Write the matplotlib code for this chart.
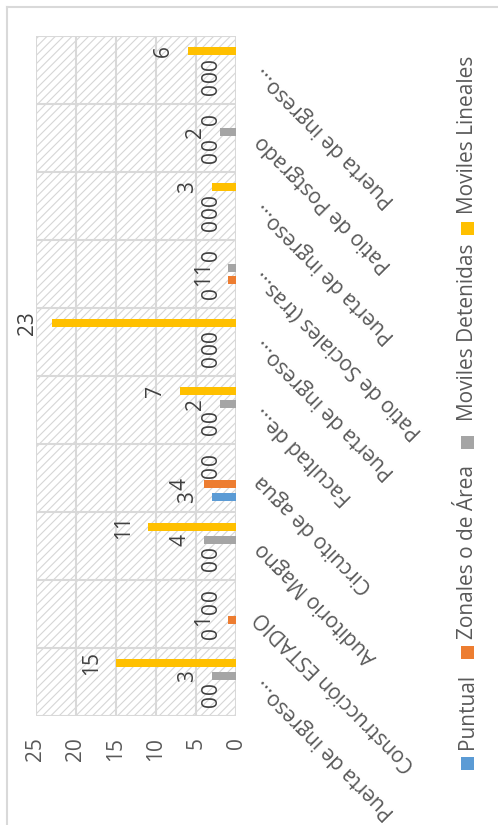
import matplotlib
matplotlib.use("Agg")
import matplotlib.pyplot as plt
import numpy as np
from matplotlib.patches import Rectangle
from matplotlib.lines import Line2D

plt.rcParams['font.family'] = ['Open Sans', 'DejaVu Sans']
plt.rcParams['hatch.linewidth'] = 0.8
plt.rcParams['hatch.color'] = '#d6d6d6'

categories = ["Puerta de ingreso...", "Construcción ESTADIO", "Auditorio Magno",
              "Circuito de agua", "Facultad de...", "Puerta de ingreso...",
              "Patio de Sociales (tras...", "Puerta de ingreso...",
              "Patio de Postgrado", "Puerta de ingreso..."]
series_names = ["Puntual", "Zonales o de Área", "Moviles Detenidas", "Moviles Lineales"]
puntual = [0, 0, 0, 3, 0, 0, 0, 0, 0, 0]
zonales = [0, 1, 0, 4, 0, 0, 1, 0, 0, 0]
detenidas = [3, 0, 4, 0, 2, 0, 1, 0, 2, 0]
lineales = [15, 0, 11, 0, 7, 23, 0, 3, 0, 6]
value_ticks = [0, 5, 10, 15, 20, 25]

colors = ['#5B9BD5', '#ED7D31', '#A5A5A5', '#FFC000']
series = [puntual, zonales, detenidas, lineales]

FS = 15
W, H = 498, 825
fig = plt.figure(figsize=(W / 100, H / 100), dpi=100)
ax = fig.add_axes([36 / W, 1 - 716 / H, 200 / W, 680 / H])

n = len(categories)
y = np.arange(n)
offsets = np.array([-1.5, -0.5, 0.5, 1.5]) * 0.185
bar_h = 0.12

ax.set_xlim(25, 0)
ax.set_ylim(-0.5, n - 0.5)

# hatched background
ax.add_patch(Rectangle((0, 0), 1, 1, transform=ax.transAxes, facecolor='white',
                       edgecolor='#d6d6d6', hatch='////', linewidth=0, zorder=0))

for v in value_ticks:
    ax.axvline(v, color='#d9d9d9', lw=1.5, zorder=1)
for b in np.arange(-0.5, n, 1.0):
    ax.axhline(b, color='#d9d9d9', lw=1.5, zorder=1)

for vals, col, off in zip(series, colors, offsets):
    ax.barh(y + off, vals, height=bar_h, color=col, zorder=3)
    for yy, v in zip(y + off, vals):
        ax.annotate(str(v), xy=(v, yy), xytext=(-10, 0), textcoords='offset points',
                    rotation=90, ha='right', va='center', fontsize=FS,
                    color='#404040', zorder=4)

for s in ax.spines.values():
    s.set_visible(False)

ax.set_xticks(value_ticks)
ax.set_xticklabels([str(v) for v in value_ticks])
ax.tick_params(axis='x', length=0, pad=15, labelsize=FS, labelcolor='#595959',
               labelrotation=90)

ax.yaxis.tick_right()
ax.set_yticks(y)
ax.set_yticklabels(categories)
ax.tick_params(axis='y', length=0, pad=16, labelsize=FS, labelcolor='#595959')
for lab in ax.get_yticklabels():
    lab.set_rotation(135)
    lab.set_rotation_mode('anchor')
    lab.set_ha('right')
    lab.set_va('center')

# legend (rotated, drawn manually)
leg_x = 467 / W
marker_y = [763, 652, 443, 228]
text_start = [749, 639, 421, 214]
for name, col, my, ty in zip(series_names, colors, marker_y, text_start):
    fig.patches.append(Rectangle((leg_x - 6.5 / W, 1 - (my + 6.5) / H), 13 / W, 13 / H,
                                 transform=fig.transFigure, facecolor=col,
                                 edgecolor='none'))
    fig.text(leg_x, 1 - ty / H, name, rotation=90, ha='center', va='bottom',
             fontsize=FS, color='#595959')

# chart frame
fig.lines.append(Line2D([7 / W, 1], [1 - 7 / H, 1 - 7 / H], transform=fig.transFigure,
                        color='#d9d9d9', lw=1.5))
fig.lines.append(Line2D([7 / W, 7 / W], [0, 1 - 7 / H], transform=fig.transFigure,
                        color='#d9d9d9', lw=1.5))

fig.savefig('out.png', dpi=100, facecolor='white')
